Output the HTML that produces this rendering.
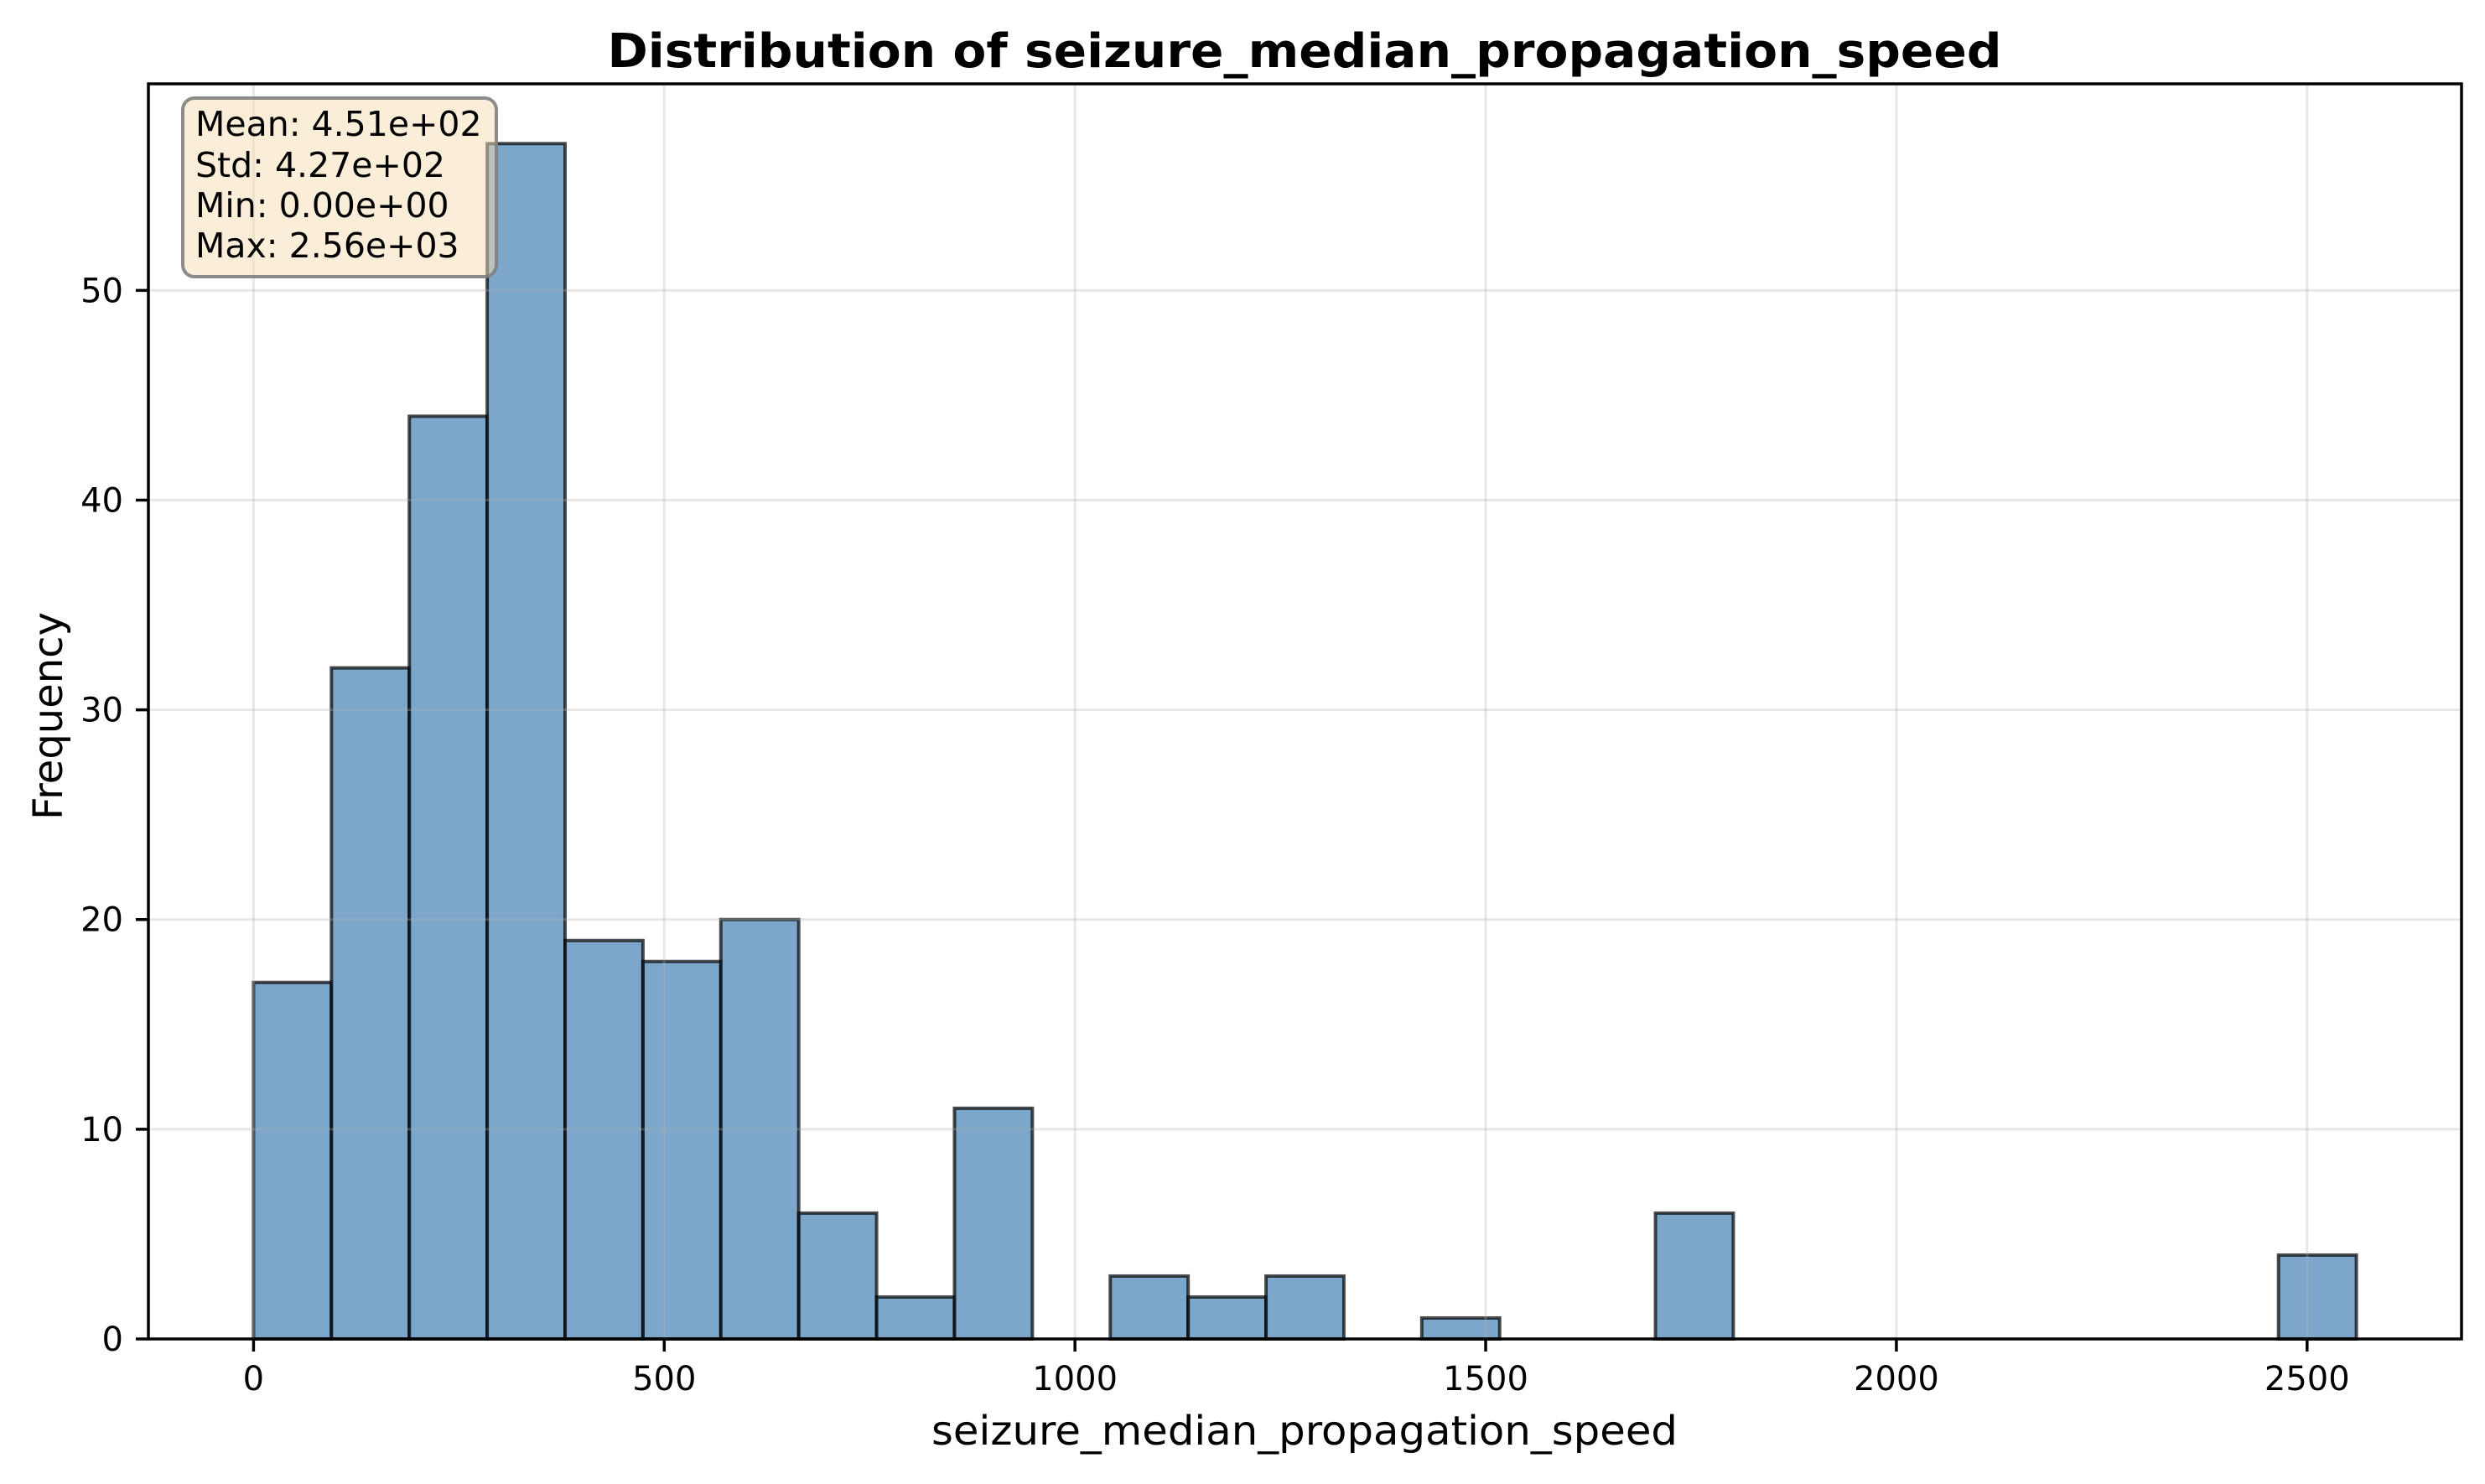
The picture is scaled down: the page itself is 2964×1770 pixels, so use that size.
<!DOCTYPE html>
<html><head><meta charset="utf-8"><style>
html,body{margin:0;padding:0;background:#fff;}
svg text{font-family:"DejaVu Sans","Liberation Sans",sans-serif;}
</style></head><body>
<svg id="chart" width="2964" height="1765" viewBox="0 0 2964 1765" xmlns="http://www.w3.org/2000/svg">
<rect x="0" y="0" width="2964" height="1765" fill="#fff"/>
<g id="bars"></g>
<g id="grid"></g>
<g id="axes"></g>
<text x="1556" y="80" text-anchor="middle" font-size="56" font-weight="bold" textLength="1663" lengthAdjust="spacingAndGlyphs">Distribution of seizure_median_propagation_speed</text>
<text x="1556" y="1723" text-anchor="middle" font-size="48" textLength="890" lengthAdjust="spacingAndGlyphs">seizure_median_propagation_speed</text>
<text x="0" y="0" text-anchor="middle" font-size="48" transform="translate(74,854) rotate(-90)">Frequency</text>
<g>
<rect x="218" y="117" width="374" height="213" rx="14" ry="14" fill="#f5deb3" fill-opacity="0.5" stroke="#808080" stroke-opacity="0.9" stroke-width="4"/>
<text x="233" y="162" font-size="41">Mean: 4.51e+02</text>
<text x="233" y="211" font-size="41">Std: 4.27e+02</text>
<text x="233" y="259" font-size="41">Min: 0.00e+00</text>
<text x="233" y="307" font-size="41">Max: 2.56e+03</text>
</g>
</svg>
<script>
const binStart = 0;
const binEnd = 2560;
const counts = [17,32,44,57,19,18,20,6,2,11,0,3,2,3,0,1,0,0,6,0,0,0,0,0,0,0,4];
const xTicks = [0,500,1000,1500,2000,2500];
const yTicks = [0,10,20,30,40,50];

const NS = "http://www.w3.org/2000/svg";
const L = 177, R = 2936, T = 100, B = 1597;
const xMin = -128, xMax = 2688, yMin = 0, yMax = 59.85;
function xs(v){ return L + (v - xMin) / (xMax - xMin) * (R - L); }
function ys(v){ return B - (v - yMin) / (yMax - yMin) * (B - T); }
function mk(tag, attrs, parent){
  const e = document.createElementNS(NS, tag);
  for (const k in attrs) e.setAttribute(k, attrs[k]);
  parent.appendChild(e); return e;
}
const gBars = document.getElementById('bars');
const gGrid = document.getElementById('grid');
const gAxes = document.getElementById('axes');
const w = (binEnd - binStart) / counts.length;
counts.forEach((c, i) => {
  if (c <= 0) return;
  const x0 = xs(binStart + i * w), x1 = xs(binStart + (i + 1) * w);
  const r = mk('rect', {x: x0, y: ys(c), width: x1 - x0, height: ys(0) - ys(c),
    fill: '#4682b4', 'fill-opacity': 0.7, stroke: '#000', 'stroke-opacity': 0.7, 'stroke-width': 4}, gBars);
  
  
});
xTicks.forEach(v => {
  const g = mk('line', {x1: xs(v), x2: xs(v), y1: T, y2: B, stroke: '#b0b0b0', 'stroke-opacity': 0.3, 'stroke-width': 3}, gGrid);
  
  
  const t = mk('line', {x1: xs(v), x2: xs(v), y1: B, y2: B + 15, stroke: '#000', 'stroke-width': 3.5}, gAxes);
  
  
  const l = mk('text', {x: xs(v), y: 1658, 'text-anchor': 'middle', 'font-size': 40}, gAxes);
  l.textContent = String(v);
  
  
});
yTicks.forEach(v => {
  const g = mk('line', {x1: L, x2: R, y1: ys(v), y2: ys(v), stroke: '#b0b0b0', 'stroke-opacity': 0.3, 'stroke-width': 3}, gGrid);
  
  
  const t = mk('line', {x1: L - 15, x2: L, y1: ys(v), y2: ys(v), stroke: '#000', 'stroke-width': 3.5}, gAxes);
  
  
  const l = mk('text', {x: L - 30, y: ys(v) + 14, 'text-anchor': 'end', 'font-size': 40}, gAxes);
  l.textContent = String(v);
  
  
});
const frame = mk('rect', {x: L, y: T, width: R - L, height: B - T, fill: 'none', stroke: '#000', 'stroke-width': 3.5}, gAxes);


</script>
</body></html>
